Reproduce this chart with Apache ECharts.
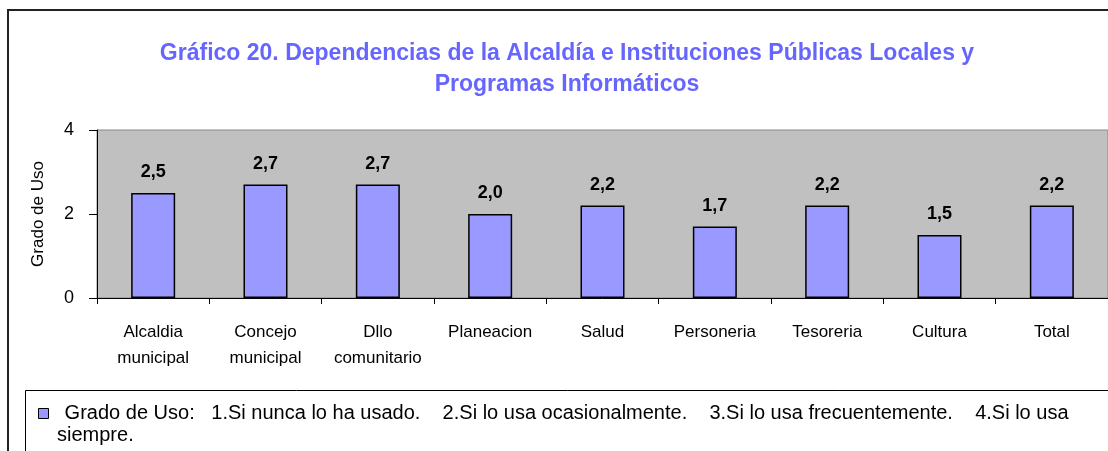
<!DOCTYPE html>
<html>
<head>
<meta charset="utf-8">
<script src="https://cdn.jsdelivr.net/npm/echarts@6/dist/echarts.min.js"></script>
<style>
  html, body { margin: 0; padding: 0; background: #fff; }
  #chart { width: 1108px; height: 451px; }
</style>
</head>
<body>
<div id="chart"></div>
<script>
  // categorías y valores del gráfico
  var categorias = ['Alcaldia\nmunicipal', 'Concejo\nmunicipal', 'Dllo\ncomunitario', 'Planeacion', 'Salud',
    'Personeria', 'Tesoreria', 'Cultura', 'Total'];
  var gradoUso = [2.5, 2.7, 2.7, 2.0, 2.2, 1.7, 2.2, 1.5, 2.2];
  var yTicks = [0, 2, 4];
  var leyenda1 = '  Grado de Uso:   1.Si nunca lo ha usado.    2.Si lo usa ocasionalmente.    3.Si lo usa frecuentemente.    4.Si lo usa';
  var leyenda2 = 'siempre.';

  var chart = echarts.init(document.getElementById('chart'));
  var font = 'Liberation Sans, Arial, sans-serif';

  var option = {
    backgroundColor: '#fff',
    animation: false,
    textStyle: {fontFamily: font},
    title: {
      text: 'Gráfico 20. Dependencias de la Alcaldía e Instituciones Públicas Locales y\nProgramas Informáticos',
      left: 562,
      top: 33,
      textAlign: 'center',
      textStyle: {color: '#6666ff', fontSize: 23, fontWeight: 'bold', lineHeight: 31, fontFamily: font}
    },
    graphic: [
      {type: 'rect', shape: {x: 8, y: 10, width: 1200, height: 500}, style: {fill: 'none', stroke: '#222', lineWidth: 2}, z: 0},
      {type: 'rect', shape: {x: 25.5, y: 390.5, width: 1200, height: 100}, style: {fill: 'none', stroke: '#000', lineWidth: 1}, z: 0},
      {type: 'text', x: 57, y: 435, style: {text: leyenda2, fill: '#000', font: '20px ' + font, textVerticalAlign: 'middle'}}
    ],
    legend: {
      left: 33,
      top: 395,
      icon: 'rect',
      itemWidth: 10,
      itemHeight: 10,
      itemStyle: {borderColor: '#000', borderWidth: 1},
      formatter: function () { return leyenda1; },
      textStyle: {color: '#000', fontSize: 20, lineHeight: 27, fontFamily: font}
    },
    grid: {
      left: 97,
      top: 130,
      width: 1012,
      height: 168,
      show: true,
      backgroundColor: '#c0c0c0',
      borderColor: '#888',
      borderWidth: 1
    },
    xAxis: {
      type: 'category',
      data: categorias,
      axisLine: {lineStyle: {color: '#000', width: 1}},
      axisTick: {show: true, length: 6, lineStyle: {color: '#000'}},
      axisLabel: {color: '#000', fontSize: 17, lineHeight: 26, margin: 21, interval: 0, fontFamily: font}
    },
    yAxis: {
      type: 'value',
      min: 0,
      max: 4,
      interval: 2,
      name: 'Grado de Uso',
      nameLocation: 'middle',
      nameGap: 50,
      nameRotate: 90,
      nameTextStyle: {color: '#000', fontSize: 17, fontFamily: font},
      axisLine: {show: true, lineStyle: {color: '#000', width: 1}},
      axisTick: {show: true, length: 8, lineStyle: {color: '#000'}},
      splitLine: {show: false},
      axisLabel: {
        color: '#000', fontSize: 18, margin: 23, fontFamily: font,
        formatter: function (v) { return yTicks.indexOf(v) >= 0 ? String(v) : ''; }
      }
    },
    series: [{
      name: 'Grado de Uso',
      type: 'bar',
      data: gradoUso,
      barWidth: 44,
      itemStyle: {color: '#9999ff', borderColor: '#000', borderWidth: 1.5},
      label: {
        show: true,
        position: 'top',
        distance: 12,
        color: '#000',
        fontSize: 18,
        fontWeight: 'bold',
        fontFamily: font,
        formatter: function (p) { return p.value.toFixed(1).replace('.', ','); }
      }
    }]
  };

  chart.setOption(option);
</script>
</body>
</html>
